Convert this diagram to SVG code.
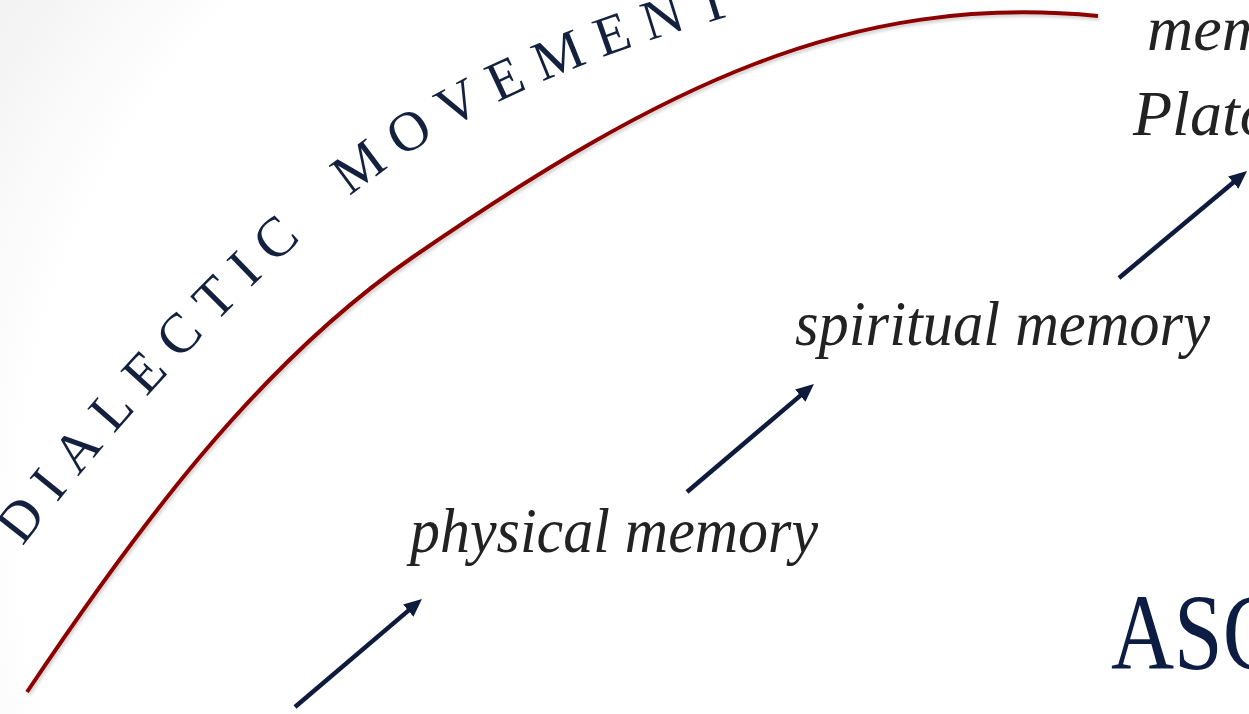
<svg xmlns="http://www.w3.org/2000/svg" xmlns:xlink="http://www.w3.org/1999/xlink" width="1249" height="714" viewBox="0 0 1249 714">
  <style>
    .label { font-family: "Liberation Serif", "DejaVu Serif", serif; font-style: italic; font-size: 64px; fill: #222222; }
    .arc { font-family: "Liberation Serif", "DejaVu Serif", serif; font-size: 56px; fill: #13213F; letter-spacing: 15px; word-spacing: 20px; }
    .big { font-family: "Liberation Serif", "DejaVu Serif", serif; font-size: 109px; fill: #0C1C42; }
    .arrow { stroke: #0E1B3D; stroke-width: 4.5; fill: none; marker-end: url(#head); }
    .curve { stroke: #8C0000; stroke-width: 4; fill: none; stroke-linecap: butt; }
  </style>
  <defs>
    <radialGradient id="bg" cx="760" cy="520" r="900" gradientUnits="userSpaceOnUse">
      <stop offset="0.82" stop-color="#ffffff"/>
      <stop offset="1" stop-color="#f3f3f3"/>
    </radialGradient>
    <filter id="shadow" x="-5%" y="-5%" width="110%" height="110%">
      <feDropShadow dx="1.5" dy="2.5" stdDeviation="1.5" flood-color="#000" flood-opacity="0.18"/>
    </filter>
    <marker id="head" markerUnits="userSpaceOnUse" viewBox="0 0 18 16" markerWidth="18" markerHeight="16" refX="4" refY="8" orient="auto">
      <path d="M0,0 L18,8 L0,16 z" fill="#0E1B3D"/>
    </marker>
    <path id="arcPath" d="M 0,577 C 90,455 210,318 340,205 C 430,128 550,70 690,28 L 820,-12"/>
  </defs>

  <rect x="0" y="0" width="1249" height="714" fill="url(#bg)"/>

  <g id="connectors">
    <path id="dialectic-curve" class="curve" filter="url(#shadow)" d="M27,692 C133,534 256,365 413,257 C660,87 850,-8 1098,16"/>
    <line id="arrow-1" class="arrow" x1="295" y1="707" x2="411.3" y2="608.1"/>
    <line id="arrow-2" class="arrow" x1="687" y1="492" x2="803.3" y2="393.1"/>
    <line id="arrow-3" class="arrow" x1="1119" y1="278" x2="1236.3" y2="180"/>
  </g>

  <g id="arc-title">
    <text class="arc"><textPath xlink:href="#arcPath" href="#arcPath" startOffset="38">DIALECTIC MOVEMENT</textPath></text>
  </g>

  <g id="node-physical">
    <text class="label" x="410" y="552" textLength="408" lengthAdjust="spacingAndGlyphs">physical memory</text>
  </g>
  <g id="node-spiritual">
    <text class="label" x="795" y="345" textLength="415" lengthAdjust="spacingAndGlyphs">spiritual memory</text>
  </g>
  <g id="node-top">
    <text class="label" x="1147" y="50">mem</text>
    <text class="label" x="1133" y="135">Plato</text>
  </g>
  <g id="node-asc">
    <text class="big" x="1111" y="669" textLength="170" lengthAdjust="spacingAndGlyphs">ASC</text>
  </g>
</svg>
